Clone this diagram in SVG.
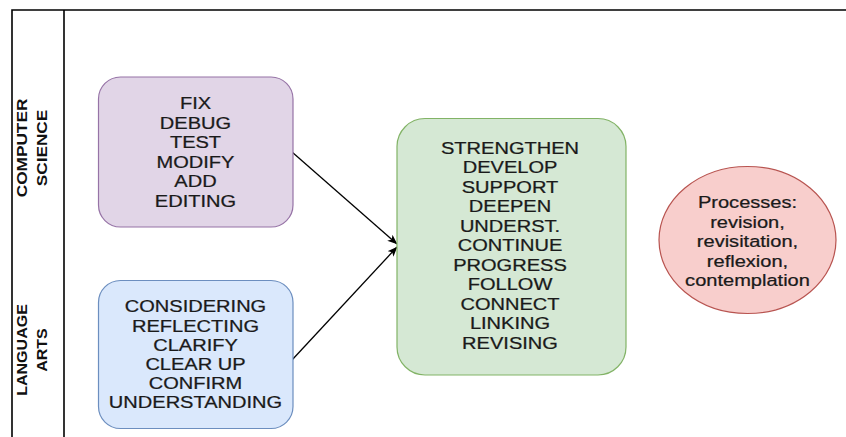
<svg xmlns="http://www.w3.org/2000/svg" width="846" height="437" viewBox="0 0 846 437">
  <style>
    .frame { fill: none; stroke: #000; stroke-width: 1.6; }
    .lane { font-family: "Liberation Sans", Arial, sans-serif; font-size: 15px; font-weight: bold; fill: #111; text-anchor: middle; }
    .lbl { font-family: "Liberation Sans", Arial, sans-serif; font-size: 17px; fill: #1a1a1a; stroke: #1a1a1a; stroke-width: 0.25; text-anchor: middle; }
    .edge { fill: none; stroke: #000; stroke-width: 1.3; }
  </style>
  <defs>
    <marker id="arrow" viewBox="0 0 10 8" refX="9.5" refY="4" markerWidth="10" markerHeight="8" markerUnits="userSpaceOnUse" orient="auto">
      <path d="M0,0 L10,4 L0,8 L2.5,4 Z" fill="#000"/>
    </marker>
  </defs>

  <rect width="846" height="437" fill="#fff"/>

  <!-- swimlane frame -->
  <g id="frame">
    <path class="frame" d="M12,437 V10 H846"/>
    <path class="frame" d="M64,10 V437"/>
  </g>

  <!-- lane headers -->
  <g id="lane-cs">
    <text class="lane" transform="translate(27.3,148) rotate(-90) scale(1.15,1)">COMPUTER</text>
    <text class="lane" transform="translate(46.5,148) rotate(-90) scale(1.15,1)">SCIENCE</text>
  </g>
  <g id="lane-la">
    <text class="lane" transform="translate(27.3,350) rotate(-90) scale(1.07,1)">LANGUAGE</text>
    <text class="lane" transform="translate(46.5,350) rotate(-90) scale(1.07,1)">ARTS</text>
  </g>

  <!-- connectors -->
  <g id="connectors">
    <line class="edge" x1="292" y1="152" x2="397" y2="244" marker-end="url(#arrow)"/>
    <line class="edge" x1="292" y1="360" x2="397" y2="247" marker-end="url(#arrow)"/>
  </g>

  <!-- computer science actions -->
  <g id="node-cs">
    <rect x="98.5" y="77" width="194.5" height="150" rx="22" ry="22" fill="#e1d5e7" stroke="#9673a6" stroke-width="1.2"/>
    <g transform="translate(195.5,0) scale(1.18,1)">
      <text class="lbl" x="0" y="109.3">FIX</text>
      <text class="lbl" x="0" y="128.8">DEBUG</text>
      <text class="lbl" x="0" y="148.3">TEST</text>
      <text class="lbl" x="0" y="167.8">MODIFY</text>
      <text class="lbl" x="0" y="187.3">ADD</text>
      <text class="lbl" x="0" y="206.8">EDITING</text>
    </g>
  </g>

  <!-- language arts actions -->
  <g id="node-la">
    <rect x="98.5" y="280.5" width="194.5" height="148" rx="22" ry="22" fill="#dae8fc" stroke="#6c8ebf" stroke-width="1.2"/>
    <g transform="translate(195.5,0) scale(1.18,1)">
      <text class="lbl" x="0" y="312.4">CONSIDERING</text>
      <text class="lbl" x="0" y="331.6">REFLECTING</text>
      <text class="lbl" x="0" y="350.8">CLARIFY</text>
      <text class="lbl" x="0" y="370">CLEAR UP</text>
      <text class="lbl" x="0" y="389.2">CONFIRM</text>
      <text class="lbl" x="0" y="408.4">UNDERSTANDING</text>
    </g>
  </g>

  <!-- shared outcomes -->
  <g id="node-outcomes">
    <rect x="397" y="118.5" width="229" height="256.5" rx="28" ry="28" fill="#d5e8d4" stroke="#82b366" stroke-width="1.2"/>
    <g transform="translate(510,0) scale(1.18,1)">
      <text class="lbl" x="0" y="153.7">STRENGTHEN</text>
      <text class="lbl" x="0" y="173.2">DEVELOP</text>
      <text class="lbl" x="0" y="192.7">SUPPORT</text>
      <text class="lbl" x="0" y="212.2">DEEPEN</text>
      <text class="lbl" x="0" y="231.7">UNDERST.</text>
      <text class="lbl" x="0" y="251.2">CONTINUE</text>
      <text class="lbl" x="0" y="270.7">PROGRESS</text>
      <text class="lbl" x="0" y="290.2">FOLLOW</text>
      <text class="lbl" x="0" y="309.7">CONNECT</text>
      <text class="lbl" x="0" y="329.2">LINKING</text>
      <text class="lbl" x="0" y="348.7">REVISING</text>
    </g>
  </g>

  <!-- processes -->
  <g id="node-processes">
    <ellipse cx="747.5" cy="240" rx="88.5" ry="73.5" fill="#f8cecc" stroke="#b85450" stroke-width="1.2"/>
    <g transform="translate(747.5,0) scale(1.18,1)">
      <text class="lbl" x="0" y="208.5">Processes:</text>
      <text class="lbl" x="0" y="228">revision,</text>
      <text class="lbl" x="0" y="247.5">revisitation,</text>
      <text class="lbl" x="0" y="267">reflexion,</text>
      <text class="lbl" x="0" y="286.5">contemplation</text>
    </g>
  </g>
</svg>
